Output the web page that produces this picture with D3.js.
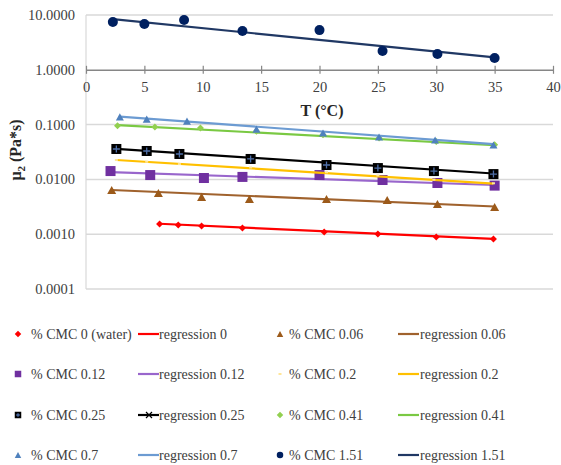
<!DOCTYPE html>
<html><head><meta charset="utf-8">
<script src="https://cdn.jsdelivr.net/npm/d3@7"></script>
<style>body{margin:0;background:#fff}svg{display:block}</style>
</head><body><svg id="c" width="561" height="465"></svg>
<script>
// ---- data ----
const xTicks = [0,5,10,15,20,25,30,35,40];
const yTicks = [0.0001,0.001,0.01,0.1,1,10];
const seriesNames = ["0 (water)","0.06","0.12","0.2","0.25","0.41","0.7","1.51"];
const regNames = ["0","0.06","0.12","0.2","0.25","0.41","0.7","1.51"];
const T_0    = [6.3,7.9,9.9,13.4,20.4,25.0,30.0,34.9];
const V_0    = [0.00153,0.00147,0.00141,0.0013,0.0011,0.00101,0.00089,0.00082];
const T_006  = [2.2,6.2,9.9,14.0,20.6,25.8,30.1,35.0];
const V_006  = [0.0064,0.00565,0.0048,0.0044,0.0044,0.0042,0.00356,0.00313];
const T_012  = [2.1,5.5,10.1,13.4,20.0,25.4,30.1,35.0];
const V_012  = [0.0142,0.0120,0.0106,0.0111,0.0120,0.00975,0.0086,0.0077];
const T_02   = [2.6,5.2,8.0,14.1,20.6,25.0,29.8,34.9];
const V_02   = [0.0226,0.021,0.019,0.0165,0.0135,0.0118,0.0099,0.0085];
const T_025  = [2.6,5.2,8.0,14.1,20.6,25.0,29.8,34.9];
const V_025  = [0.0359,0.033,0.0291,0.0236,0.0183,0.0161,0.0142,0.0125];
const T_041  = [2.7,5.9,9.8,14.6,20.3,25.1,30.0,35.0];
const V_041  = [0.0955,0.0904,0.0867,0.076,0.065,0.057,0.049,0.043];
const T_07   = [2.9,5.2,8.65,14.6,20.3,25.1,29.9,34.9];
const V_07   = [0.138,0.126,0.116,0.083,0.0703,0.0594,0.0524,0.0424];
const T_151  = [2.3,5.0,8.4,13.4,20.0,25.4,30.1,35.0];
const V_151  = [7.45,6.85,8.1,5.1,5.3,2.2,1.94,1.64];
// regression line end points [T start, T end] and [value start, value end]
const regT = [[6.3,34.9],[2.2,35.0],[2.1,35.0],[2.6,34.9],[2.6,34.9],[2.7,35.0],[2.9,34.9],[2.3,35.0]];
const regV = [[0.00155,0.00082],[0.0064,0.0032],[0.0136,0.0079],[0.0226,0.0084],[0.036,0.0128],[0.098,0.042],[0.14,0.044],[8.4,1.68]];

const markerColors = ["#FF0000","#9C5A1A","#7030A0","#FFE699","#000000","#92D050","#4F81BD","#002060"];
const lineColors   = ["#FF0000","#A0622D","#9966CC","#FFC000","#000000","#7AC943","#6C9BD2","#203864"];
const shapes = ["diamond","triangle","square","dash","squarecross","diamond","triangle","circle"];
const msize  = [7,9,10,3,10,7,8,10];

const Ts = [T_0,T_006,T_012,T_02,T_025,T_041,T_07,T_151];
const Vs = [V_0,V_006,V_012,V_02,V_025,V_041,V_07,V_151];

const FONT = "'Liberation Serif', 'Times New Roman', 'DejaVu Serif', serif";
const svg = d3.select("#c");
const x = d3.scaleLinear().domain([0,40]).range([86,553]);
const y = d3.scaleLog().domain([0.0001,10]).range([289,15]);

// gridlines
svg.append("g").selectAll("line").data(yTicks.filter(d=>d!==1)).join("line")
  .attr("x1",x(0)).attr("x2",x(40)).attr("y1",d=>y(d)).attr("y2",d=>y(d))
  .attr("stroke","#D9D9D9").attr("stroke-width",1.5);
// y axis line
svg.append("line").attr("x1",x(0)).attr("x2",x(0)).attr("y1",y(10)).attr("y2",y(0.0001))
  .attr("stroke","#D9D9D9").attr("stroke-width",1.2);
// y tick labels
svg.append("g").selectAll("text").data(yTicks).join("text")
  .attr("x",75).attr("y",d=>y(d)).attr("dy","0.35em").attr("text-anchor","end")
  .attr("font-family",FONT).attr("font-size",14.5).attr("fill","#404040").text(d=>d3.format(".4f")(d));

// x axis at y=1
const xAxis = d3.axisBottom(x).tickValues(xTicks).tickSizeInner(4).tickSizeOuter(0).tickPadding(8);
const gx = svg.append("g").attr("transform",`translate(0,${y(1)})`).call(xAxis).attr("font-family",FONT);
gx.select(".domain").attr("stroke","#868686").attr("stroke-width",1.5);
gx.selectAll(".tick line").attr("stroke","#868686").attr("y1",-4).attr("stroke-width",1.2);
gx.selectAll(".tick text").attr("font-size",14.5).attr("fill","#404040").attr("font-family",FONT);

// axis titles
svg.append("text").attr("x",322).attr("y",116).attr("text-anchor","middle").attr("font-family",FONT)
  .attr("font-size",16).attr("font-weight","bold").attr("fill","#262626").text("T (°C)");
const yl = svg.append("text").attr("transform","translate(21,150) rotate(-90)").attr("font-family",FONT)
  .attr("text-anchor","middle").attr("font-size",16).attr("font-weight","bold").attr("fill","#262626");
yl.append("tspan").text("μ");
yl.append("tspan").attr("font-size",11).attr("dy",4).text("2");
yl.append("tspan").attr("dy",-4).text(" (Pa*s)");

function drawMarker(g, shape, cx, cy, s, color){
  if(shape==="circle"){
    g.append("circle").attr("cx",cx).attr("cy",cy).attr("r",s/2).attr("fill",color);
  } else if(shape==="square"){
    g.append("rect").attr("x",cx-s/2).attr("y",cy-s/2).attr("width",s).attr("height",s).attr("fill",color);
  } else if(shape==="squarecross"){
    g.append("rect").attr("x",cx-s/2).attr("y",cy-s/2).attr("width",s).attr("height",s).attr("fill",color);
    g.append("path").attr("d",`M${cx-s/2+1.5},${cy}H${cx+s/2-1.5}M${cx},${cy-s/2+1.5}V${cy+s/2-1.5}`)
      .attr("stroke","#4F6FA8").attr("stroke-width",1.3);
  } else if(shape==="triangle"){
    const h=s*0.9;
    g.append("path").attr("d",`M${cx},${cy-h/2}L${cx+s/2},${cy+h/2}L${cx-s/2},${cy+h/2}Z`).attr("fill",color);
  } else if(shape==="diamond"){
    g.append("path").attr("d",`M${cx},${cy-s/2}L${cx+s/2},${cy}L${cx},${cy+s/2}L${cx-s/2},${cy}Z`).attr("fill",color);
  } else if(shape==="dash"){
    g.append("rect").attr("x",cx-1.5).attr("y",cy-1).attr("width",3).attr("height",2).attr("fill",color);
  }
}

// regression lines and markers
const plot = svg.append("g");
[0,1,2,3,4,5,6,7].forEach(i=>{
  const g = plot.append("g");
  g.append("line").attr("x1",x(regT[i][0])).attr("x2",x(regT[i][1]))
    .attr("y1",y(regV[i][0])).attr("y2",y(regV[i][1]))
    .attr("stroke",lineColors[i]).attr("stroke-width",2.2);
  Ts[i].forEach((t,k)=>drawMarker(g, shapes[i], x(t), y(Vs[i][k]), msize[i], markerColors[i]));
});

// legend
const rowsY = [334,374,415,455];
const leg = svg.append("g");
for(let i=0;i<8;i++){
  const row = Math.floor(i/2), pair = i%2;
  const yy = rowsY[row];
  const mx = pair===0 ? 18 : 280, tx = pair===0 ? 31 : 289;
  const lx = pair===0 ? 138 : 398, ltx = pair===0 ? 159 : 420;
  drawMarker(leg, shapes[i], mx, yy, shapes[i]==="dash"?3:6.5, markerColors[i]);
  leg.append("text").attr("x",tx).attr("y",yy).attr("dy","0.35em").attr("font-size",14).attr("font-family",FONT)
    .attr("fill","#404040").text("% CMC " + seriesNames[i]);
  leg.append("line").attr("x1",lx).attr("x2",lx+21).attr("y1",yy).attr("y2",yy)
    .attr("stroke",lineColors[i]).attr("stroke-width",2.2);
  if(i===4){
    leg.append("path").attr("d",`M${lx+8},${yy-3}L${lx+14},${yy+3}M${lx+8},${yy+3}L${lx+14},${yy-3}`)
      .attr("stroke","#000").attr("stroke-width",1.2);
  }
  leg.append("text").attr("x",ltx).attr("y",yy).attr("dy","0.35em").attr("font-size",14).attr("font-family",FONT)
    .attr("fill","#404040").text("regression " + regNames[i]);
}
</script></body></html>
